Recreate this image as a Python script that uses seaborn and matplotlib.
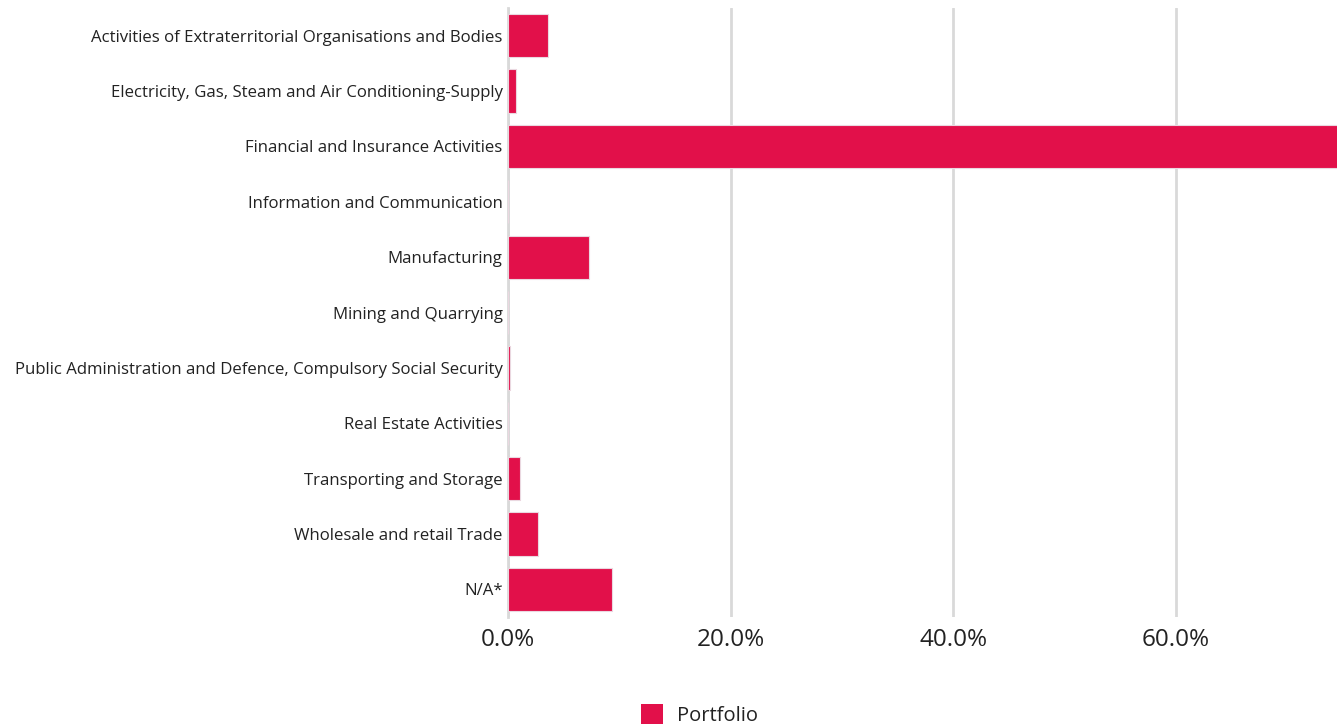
import pandas as pd
import seaborn as sns
import matplotlib.pyplot as plt
from matplotlib.patches import Patch
from matplotlib.ticker import FuncFormatter

sectors = ["Activities of Extraterritorial Organisations and Bodies",
           "Electricity, Gas, Steam and Air Conditioning-Supply",
           "Financial and Insurance Activities",
           "Information and Communication",
           "Manufacturing",
           "Mining and Quarrying",
           "Public Administration and Defence, Compulsory Social Security",
           "Real Estate Activities",
           "Transporting and Storage",
           "Wholesale and retail Trade",
           "N/A*"]
portfolio = [3.6, 0.7, 75.1, 0.02, 7.3, 0.0, 0.18, 0.0, 1.1, 2.7, 9.3]
xticks = [0, 20, 40, 60]

df = pd.DataFrame({"sector": sectors, "weight": portfolio})

sns.set_style("white")
plt.rcParams['font.family'] = ['Open Sans', 'DejaVu Sans']
red = "#e2104a"
txt = "#222222"

fig = plt.figure(figsize=(13.37, 7.26), dpi=100)
ax = fig.add_axes([0.380, 0.150, 0.620, 0.839])
sns.barplot(data=df, x="weight", y="sector", color=red, saturation=1, width=0.78,
            edgecolor="#ead8e0", linewidth=0.8, ax=ax, zorder=3)

ax.set_xlim(0, 74.45)
ax.set_ylim(10.5, -0.5)
ax.set_xticks(xticks)
ax.xaxis.set_major_formatter(FuncFormatter(lambda v, p: "%.1f%%" % v))
ax.grid(axis="x", color="#d9d9d9", linewidth=2, zorder=0)
ax.tick_params(axis="x", length=0, labelsize=17.5, labelcolor=txt, pad=8)
ax.tick_params(axis="y", length=0, labelsize=12.1, labelcolor=txt, pad=4)
ax.set_xlabel("")
ax.set_ylabel("")
for s in ["top", "right", "bottom"]:
    ax.spines[s].set_visible(False)
ax.spines["left"].set_color("#d9d9d9")
ax.spines["left"].set_linewidth(2)

handles = [Patch(facecolor=red, edgecolor="none", label="Portfolio")]
fig.legend(handles=handles, loc="center", bbox_to_anchor=(0.523, 0.015),
           frameon=False, fontsize=14.5, handlelength=1.1, handleheight=1.1,
           handletextpad=0.7, labelcolor=txt)

plt.savefig("out.png", dpi=100)
